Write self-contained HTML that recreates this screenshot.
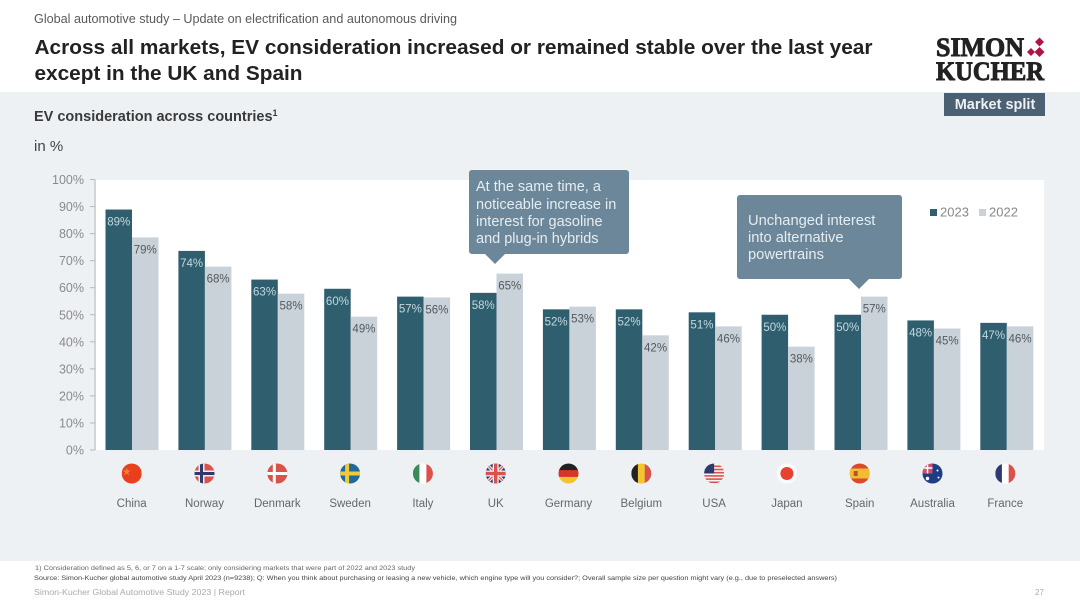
<!DOCTYPE html>
<html>
<head>
<meta charset="utf-8">
<style>
html,body{margin:0;padding:0;background:#fff;}
#page{position:relative;width:1080px;height:608px;overflow:hidden;background:#fff;font-family:"Liberation Sans",sans-serif;}
svg{position:absolute;left:0;top:0;}
text{font-family:"Liberation Sans",sans-serif;}
</style>
</head>
<body>
<div id="page">
<svg id="s" width="1080" height="608" viewBox="0 0 1080 608">
  <defs>
    <clipPath id="flag-clip"><circle cx="0" cy="0" r="10"/></clipPath>
  </defs>
  <rect x="0" y="92" width="1080" height="469" fill="#eef1f4"/>
  <text x="34" y="23" font-size="12.500" fill="#5a5a5a" textLength="423" lengthAdjust="spacingAndGlyphs">Global automotive study – Update on electrification and autonomous driving</text>
  <text x="34.5" y="54" font-size="20.2" font-weight="700" fill="#222" textLength="838" lengthAdjust="spacingAndGlyphs">Across all markets, EV consideration increased or remained stable over the last year</text>
  <text x="34.5" y="80" font-size="20.2" font-weight="700" fill="#222" textLength="268" lengthAdjust="spacingAndGlyphs">except in the UK and Spain</text>
  <g>
    <text x="936" y="56" style="font-family:'Liberation Serif',serif" font-size="26" font-weight="700" fill="#222" stroke="#222" stroke-width=".9" textLength="88" lengthAdjust="spacingAndGlyphs">SIMON</text>
    <text x="936" y="80" style="font-family:'Liberation Serif',serif" font-size="26" font-weight="700" fill="#222" stroke="#222" stroke-width=".9" textLength="108" lengthAdjust="spacingAndGlyphs">KUCHER</text>
    <g fill="#b01446">
      <path d="M1039.500 37.500l4.500 4.500-4.500 4.500-4.500-4.500z"/>
      <path d="M1039.500 47l5 5-5 5-5-5z"/>
      <path d="M1031 48l4 4-4 4-4-4z"/>
    </g>
  </g>
  <g>
    <rect x="944" y="93" width="101" height="23" fill="#4b6072"/>
    <text x="995" y="109" font-size="14.500" font-weight="700" fill="#eef1f4" text-anchor="middle">Market split</text>
  </g>
  <text x="34" y="121" font-size="14.500" font-weight="700" fill="#3a3a3a">EV consideration across countries<tspan font-size="9" dy="-5">1</tspan></text>
  <text x="34" y="151" font-size="15" fill="#444">in %</text>
  <rect x="96" y="180" width="948" height="270" fill="#fff"/>
  <g id="axis"></g>
  <g id="bars"></g>
  <g id="flags"></g>
  <g id="cats"></g>

  <g>
    <path d="M472 170H626a3 3 0 0 1 3 3V251a3 3 0 0 1-3 3H505L495 264 485 254H472a3 3 0 0 1-3-3V173a3 3 0 0 1 3-3z" fill="#6b8799"/>
    <g font-size="14.500" fill="#e6edf0">
      <text x="476" y="191">At the same time, a</text>
      <text x="476" y="209">noticeable increase in</text>
      <text x="476" y="226">interest for gasoline</text>
      <text x="476" y="243">and plug-in hybrids</text>
    </g>
  </g>
  <g>
    <path d="M740 195H899a3 3 0 0 1 3 3V276a3 3 0 0 1-3 3H869L859 289 849 279H740a3 3 0 0 1-3-3V198a3 3 0 0 1 3-3z" fill="#6b8799"/>
    <g font-size="14.700" fill="#e6edf0">
      <text x="748" y="225">Unchanged interest</text>
      <text x="748" y="242">into alternative</text>
      <text x="748" y="259">powertrains</text>
    </g>
  </g>
  <g>
    <rect x="930" y="209" width="7" height="7" fill="#2f5f6f"/>
    <text x="940" y="216.500" font-size="13" fill="#888">2023</text>
    <rect x="979" y="209" width="7" height="7" fill="#c9d2d9"/>
    <text x="989" y="216.500" font-size="13" fill="#888">2022</text>
  </g>
  <text x="35" y="570" font-size="6.500" fill="#666" textLength="380" lengthAdjust="spacingAndGlyphs">1) Consideration defined as 5, 6, or 7 on a 1-7 scale; only considering markets that were part of 2022 and 2023 study</text>
  <text x="34" y="580" font-size="6.500" fill="#444" textLength="803" lengthAdjust="spacingAndGlyphs">Source: Simon-Kucher global automotive study April 2023 (n=9238); Q: When you think about purchasing or leasing a new vehicle, which engine type will you consider?; Overall sample size per question might vary (e.g., due to preselected answers)</text>
  <text x="34" y="595" font-size="8" fill="#aaa" textLength="211" lengthAdjust="spacingAndGlyphs">Simon-Kucher   Global Automotive Study 2023 | Report</text>
  <text x="1035" y="595" font-size="8" fill="#aaa">27</text>
</svg>
</div>
<script>
const categories = ["China","Norway","Denmark","Sweden","Italy","UK","Germany","Belgium","USA","Japan","Spain","Australia","France"];
const values2023 = [88.9,73.6,63,59.6,56.7,58.1,52,52,50.9,50,50,47.9,47];
const values2022 = [78.6,67.8,57.8,49.3,56.4,65.2,53,42.4,45.7,38.2,56.7,44.9,45.7];
const tickValues = [0,10,20,30,40,50,60,70,80,90,100];

const NS = "http://www.w3.org/2000/svg";
const yScale = v => 450 - v * 2.705;
const xScale = i => 132 + i * 72.9;
const labelScale = i => 131.7 + i * 72.8;
const barWidth = 26.5;

function mk(tag, attrs, parent, txt) {
  const el = document.createElementNS(NS, tag);
  for (const k in attrs) el.setAttribute(k, attrs[k]);
  if (txt !== undefined) el.textContent = txt;
  parent.appendChild(el);
  return el;
}

const axis = document.getElementById("axis");
const axisLine = mk("line", {x1:95,x2:95,y1:yScale(100),y2:yScale(0),stroke:"#b5b9bc","stroke-width":1}, axis);


tickValues.forEach(t => {
  const tick = mk("line", {x1:90,x2:95,y1:yScale(t),y2:yScale(t),stroke:"#b5b9bc","stroke-width":1}, axis);
  
  
  const lab = mk("text", {x:84,y:yScale(t)+4.500,"font-size":12.500,fill:"#8a8a8a","text-anchor":"end"}, axis, t + "%");
  
  
});

const bars = document.getElementById("bars");
categories.forEach((c, i) => {
  const cx = xScale(i);
  const a = values2023[i], b = values2022[i];
  const r1 = mk("rect", {x:cx-barWidth,y:yScale(a),width:barWidth,height:yScale(0)-yScale(a),fill:"#2f5f6f"}, bars);
  
  
  const r2 = mk("rect", {x:cx,y:yScale(b),width:barWidth,height:yScale(0)-yScale(b),fill:"#c9d2d9"}, bars);
  
  
  const t1 = mk("text", {x:cx-barWidth/2,y:yScale(a)+16,"font-size":11.500,fill:"#c4d8df","text-anchor":"middle"}, bars, Math.round(a) + "%");
  
  
  const t2 = mk("text", {x:cx+barWidth/2,y:yScale(b)+16,"font-size":11.500,fill:"#55595c","text-anchor":"middle"}, bars, Math.round(b) + "%");
  
  
});

const cats = document.getElementById("cats");
categories.forEach((c, i) => {
  const t = mk("text", {x:labelScale(i),y:507,"font-size":11.500,fill:"#666","text-anchor":"middle"}, cats, c);
  
  
});

const R = "#d9534a", B = "#2c3a70", W = "#f6f6f6";
const flagArt = {
  China: `<rect x="-10" y="-10" width="20" height="20" fill="#e8401f"/><path d="M-5-6l1 3h3l-2.500 2 1 3-2.500-2-2.500 2 1-3-2.500-2h3z" fill="#f2803a"/>`,
  Norway: `<rect x="-10" y="-10" width="20" height="20" fill="${R}"/><rect x="-6" y="-10" width="6" height="20" fill="#eee"/><rect x="-10" y="-3" width="20" height="6" fill="#eee"/><rect x="-4.500" y="-10" width="3" height="20" fill="${B}"/><rect x="-10" y="-1.500" width="20" height="3" fill="${B}"/>`,
  Denmark: `<rect x="-10" y="-10" width="20" height="20" fill="${R}"/><rect x="-4.500" y="-10" width="3" height="20" fill="#fff"/><rect x="-10" y="-1.500" width="20" height="3" fill="#fff"/>`,
  Sweden: `<rect x="-10" y="-10" width="20" height="20" fill="#1f6a96"/><rect x="-5" y="-10" width="4" height="20" fill="#f2c93a"/><rect x="-10" y="-2" width="20" height="4" fill="#f2c93a"/>`,
  Italy: `<rect x="-10" y="-10" width="7" height="20" fill="#3a8a57"/><rect x="-3.500" y="-10" width="7" height="20" fill="#fff"/><rect x="3.500" y="-10" width="7" height="20" fill="${R}"/>`,
  UK: `<rect x="-10" y="-10" width="20" height="20" fill="${B}"/><path d="M-10-10L10 10M10-10L-10 10" stroke="#eee" stroke-width="3.500"/><path d="M-10-10L10 10M10-10L-10 10" stroke="${R}" stroke-width="1.200"/><rect x="-3" y="-10" width="6" height="20" fill="#eee"/><rect x="-10" y="-3" width="20" height="6" fill="#eee"/><rect x="-1.700" y="-10" width="3.400" height="20" fill="${R}"/><rect x="-10" y="-1.700" width="20" height="3.400" fill="${R}"/>`,
  Germany: `<rect x="-10" y="-10" width="20" height="7" fill="#222"/><rect x="-10" y="-3.400" width="20" height="7" fill="#d8352a"/><rect x="-10" y="3.400" width="20" height="7" fill="#f4c430"/>`,
  Belgium: `<rect x="-10" y="-10" width="7" height="20" fill="#222"/><rect x="-3.400" y="-10" width="7" height="20" fill="#f4c430"/><rect x="3.400" y="-10" width="7" height="20" fill="${R}"/>`,
  USA: `<rect x="-10" y="-10" width="20" height="20" fill="#f4f4f4"/><g fill="${R}"><rect x="-10" y="-8" width="20" height="1.600"/><rect x="-10" y="-4.800" width="20" height="1.600"/><rect x="-10" y="-1.600" width="20" height="1.600"/><rect x="-10" y="1.600" width="20" height="1.600"/><rect x="-10" y="4.800" width="20" height="1.600"/><rect x="-10" y="8" width="20" height="1.600"/></g><rect x="-10" y="-10" width="10" height="10" fill="${B}"/>`,
  Japan: `<rect x="-10" y="-10" width="20" height="20" fill="#fbfbfb"/><circle r="6.500" fill="#e8412f"/>`,
  Spain: `<rect x="-10" y="-10" width="20" height="20" fill="#dc4a2c"/><rect x="-10" y="-5" width="20" height="10" fill="#f4bb35"/><rect x="-6" y="-2.500" width="4" height="5" fill="#b5562a"/>`,
  Australia: `<rect x="-10" y="-10" width="20" height="20" fill="#1f3d85"/><rect x="-10" y="-10" width="10" height="10" fill="#c9506a"/><path d="M-10-5.500H0M-5-10V0" stroke="#fff" stroke-width="1.500"/><circle cx="5" cy="-3" r="1" fill="#fff"/><circle cx="6" cy="4" r="1" fill="#fff"/><circle cx="-5" cy="5" r="1.700" fill="#fff"/>`,
  France: `<rect x="-10" y="-10" width="7" height="20" fill="${B}"/><rect x="-3.400" y="-10" width="7" height="20" fill="#fff"/><rect x="3.400" y="-10" width="7" height="20" fill="${R}"/>`
};
const flags = document.getElementById("flags");
categories.forEach((c, i) => {
  const g = mk("g", {transform:`translate(${labelScale(i)},473.500)`,"clip-path":"url(#flag-clip)"}, flags);
  
  
  g.innerHTML = flagArt[c];
});
</script>
</body>
</html>
